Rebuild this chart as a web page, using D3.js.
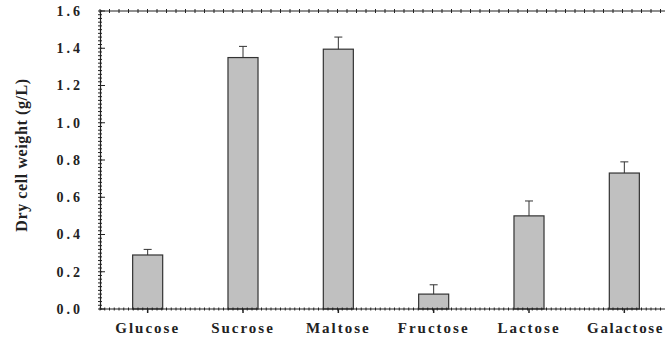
<!DOCTYPE html>
<html>
<head>
<meta charset="utf-8">
<script src="https://cdn.jsdelivr.net/npm/d3@7"></script>
<style>
  html, body { margin: 0; padding: 0; background: #fff; }
  svg { display: block; }
  text { font-family: "Liberation Serif", "DejaVu Serif", serif; font-weight: bold; fill: #222; }
</style>
</head>
<body>
<svg id="chart" width="665" height="340"></svg>
<script>
// Carbon sources and measured dry cell weight (g/L) with upper error
const categories = ["Glucose", "Sucrose", "Maltose", "Fructose", "Lactose", "Galactose"];
const values = [0.29, 1.35, 1.395, 0.08, 0.50, 0.73];
const errors = [0.03, 0.06, 0.065, 0.05, 0.08, 0.06];
const yTicks = [0.0, 0.2, 0.4, 0.6, 0.8, 1.0, 1.2, 1.4, 1.6];
const yLabel = "Dry cell weight (g/L)";

const svg = d3.select("#chart");
const plotLeft = 100, plotTop = 11, plotBottom = 309;
const plotRight = 672;

const x = d3.scaleBand().domain(categories).range([plotLeft, plotRight]).paddingInner(0.685).paddingOuter(0.3425);
const y = d3.scaleLinear().domain([0, 1.6]).range([plotBottom, plotTop]);

// Bars
svg.append("g").selectAll("rect").data(categories).join("rect")
  .attr("x", d => x(d))
  .attr("y", (d, i) => y(values[i]))
  .attr("width", x.bandwidth())
  .attr("height", (d, i) => y(0) - y(values[i]))
  .attr("fill", "#c0c0c0")
  .attr("stroke", "#333")
  .attr("stroke-width", 1.2);

// Upper error bars
const eb = svg.append("g").attr("stroke", "#333").attr("stroke-width", 1);
categories.forEach((c, i) => {
  const cx = x(c) + x.bandwidth() / 2;
  eb.append("line").attr("x1", cx).attr("x2", cx)
    .attr("y1", y(values[i])).attr("y2", y(values[i] + errors[i]));
  eb.append("line").attr("x1", cx - 4).attr("x2", cx + 4)
    .attr("y1", y(values[i] + errors[i])).attr("y2", y(values[i] + errors[i]));
});

// Frame lines
const frame = svg.append("g").attr("stroke", "#222").attr("stroke-width", 1.2);
frame.append("line").attr("x1", plotLeft).attr("x2", 665).attr("y1", plotBottom).attr("y2", plotBottom);
frame.append("line").attr("x1", plotLeft).attr("x2", 665).attr("y1", plotTop).attr("y2", plotTop);

// Left axis with major labels and dense minor ticks
const yAxis = d3.axisLeft(y).tickValues(yTicks).tickFormat(d3.format(".1f")).tickSize(0).tickPadding(17);
const ga = svg.append("g").attr("transform", `translate(${plotLeft},0)`).call(yAxis);
ga.select(".domain").attr("stroke", "#222").attr("stroke-width", 1.2);
ga.selectAll("text").attr("font-size", 14).attr("letter-spacing", "3px");

const minorY = d3.range(0, 1.6001, 0.02);
svg.append("g").attr("stroke", "#222").attr("stroke-width", 1).selectAll("line").data(minorY).join("line")
  .attr("x1", plotLeft - 2).attr("x2", plotLeft + 2)
  .attr("y1", d => y(d)).attr("y2", d => y(d));
svg.append("g").attr("stroke", "#222").attr("stroke-width", 1).selectAll("line").data(yTicks).join("line")
  .attr("x1", plotLeft).attr("x2", plotLeft + 5)
  .attr("y1", d => y(d)).attr("y2", d => y(d));

// Dense ticks along the top and bottom edges
const minorX = d3.range(plotLeft, 665, 9.5);
svg.append("g").attr("stroke", "#222").attr("stroke-width", 1).selectAll("line").data(minorX).join("line")
  .attr("x1", d => d).attr("x2", d => d).attr("y1", plotTop - 2).attr("y2", plotTop + 2);
svg.append("g").attr("stroke", "#222").attr("stroke-width", 1).selectAll("line").data(d3.range(plotLeft, 665, 4.75)).join("line")
  .attr("x1", d => d).attr("x2", d => d).attr("y1", plotBottom - 1.5).attr("y2", plotBottom + 1.5);

// Bottom axis labels
const xAxis = d3.axisBottom(x).tickSize(4).tickPadding(9);
const gx = svg.append("g").attr("transform", `translate(0,${plotBottom})`).call(xAxis);
gx.select(".domain").remove();
gx.selectAll(".tick line").attr("stroke", "#222").attr("stroke-width", 1.5);
gx.selectAll("text").attr("font-size", 15).attr("letter-spacing", "2px");
// keep the last label inside the page edge
gx.selectAll("text").filter(d => d === categories[categories.length - 1])
  .attr("text-anchor", "end").attr("x", 665 - (x(categories[categories.length - 1]) + x.bandwidth() / 2) - 1)
  .attr("letter-spacing", "1.6px");

// Y axis title
svg.append("text")
  .attr("transform", `translate(27,155) rotate(-90)`)
  .attr("text-anchor", "middle")
  .attr("font-size", 16)
  .attr("letter-spacing", "0.6px")
  .text(yLabel);
</script>
</body>
</html>
